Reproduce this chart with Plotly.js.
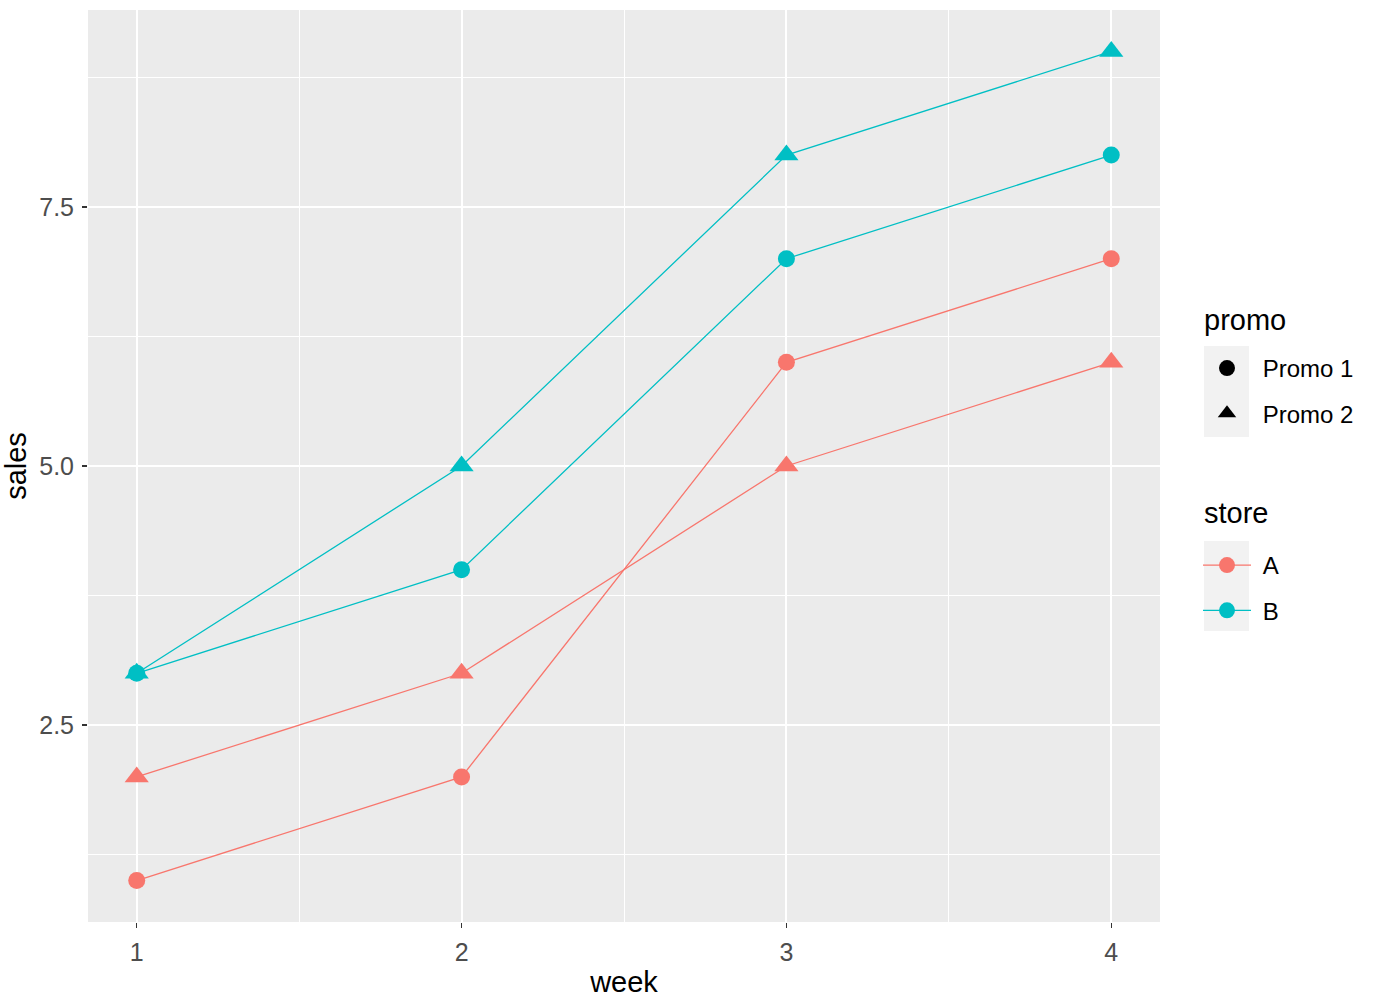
<!DOCTYPE html>
<html>
<head>
<meta charset="utf-8">
<script src="https://cdn.plot.ly/plotly-3.0.1.min.js"></script>
<style>
  html, body { margin: 0; padding: 0; background: #fff; }
  #chart { width: 1376px; height: 1006px; }
</style>
</head>
<body>
<div id="chart"></div>
<script>
const weeks = [1, 2, 3, 4];
const storeA_promo1 = [1, 2, 6, 7];
const storeA_promo2 = [2, 3, 5, 6];
const storeB_promo1 = [3, 4, 7, 8];
const storeB_promo2 = [3, 5, 8, 9];

const colA = '#F8766D';
const colB = '#00BFC4';

const circleSize = 17;
const triSize = 21;

const mkTrace = (y, color, symbol) => ({
  x: weeks,
  y: y,
  type: 'scatter',
  mode: 'lines+markers',
  line: { color: color, width: 1.3 },
  marker: { color: color, symbol: symbol, size: symbol === 'circle' ? circleSize : triSize },
  showlegend: false,
  hoverinfo: 'x+y'
});

// legend-only entries, each in its own group so the gap can be set
const legendEntry = (name, color, symbol, mode, legend) => ({
  x: [null], y: [null], type: 'scatter', mode: mode, name: '\u00a0' + name,
  legend: legend, legendgroup: name,
  line: { color: color, width: 1.3 },
  marker: { color: color, symbol: symbol, size: symbol === 'circle' ? circleSize : triSize }
});

const traces = [
  mkTrace(storeA_promo1, colA, 'circle'),
  mkTrace(storeA_promo2, colA, 'triangle-up'),
  mkTrace(storeB_promo1, colB, 'circle'),
  mkTrace(storeB_promo2, colB, 'triangle-up'),
  legendEntry('Promo 1', '#000', 'circle', 'markers', 'legend'),
  legendEntry('Promo 2', '#000', 'triangle-up', 'markers', 'legend'),
  legendEntry('A', colA, 'circle', 'lines+markers', 'legend2'),
  legendEntry('B', colB, 'circle', 'lines+markers', 'legend2')
];

const axisBase = {
  showline: false,
  zeroline: false,
  gridcolor: '#ffffff',
  gridwidth: 2,
  ticks: 'outside',
  ticklen: 5,
  tickwidth: 1.5,
  tickcolor: '#333333',
  ticklabelstandoff: 3,
  tickfont: { size: 25, color: '#4d4d4d' }
};

// px -> paper coords for legend boxes/titles
const px = v => (v - 88) / 1072;
const py = v => (922 - v) / 912;

const keyBox = (x0, y0, x1, y1) => ({
  type: 'rect', xref: 'paper', yref: 'paper',
  x0: px(x0), x1: px(x1), y0: py(y1), y1: py(y0),
  fillcolor: '#F2F2F2', line: { width: 0 }, layer: 'below'
});

const legendTitle = (text, x, y) => ({
  text: text, xref: 'paper', yref: 'paper', x: px(x), y: py(y),
  xanchor: 'left', yanchor: 'middle', showarrow: false,
  font: { size: 29, color: '#000' }
});

const layout = {
  width: 1376,
  height: 1006,
  paper_bgcolor: '#ffffff',
  plot_bgcolor: '#EBEBEB',
  font: { family: 'Liberation Sans, Arial, sans-serif', color: '#000' },
  margin: { l: 88, r: 216, t: 10, b: 84 },
  xaxis: Object.assign({}, axisBase, {
    range: [0.85, 4.15],
    tickvals: [1, 2, 3, 4],
    ticktext: ['1', '2', '3', '4'],
    minor: { showgrid: true, gridcolor: '#ffffff', gridwidth: 1, tickvals: [1.5, 2.5, 3.5], ticks: '' },
    title: { text: 'week', font: { size: 29 }, standoff: 6 }
  }),
  yaxis: Object.assign({}, axisBase, {
    range: [0.6, 9.4],
    tickvals: [2.5, 5.0, 7.5],
    ticktext: ['2.5', '5.0', '7.5'],
    minor: { showgrid: true, gridcolor: '#ffffff', gridwidth: 1, tickvals: [1.25, 3.75, 6.25, 8.75], ticks: '' },
    title: { text: 'sales', font: { size: 29 }, standoff: 10 }
  }),
  shapes: [
    keyBox(1204, 346, 1249, 437),
    keyBox(1204, 541, 1249, 631)
  ],
  annotations: [
    legendTitle('promo', 1202, 320),
    legendTitle('store', 1202, 513)
  ],
  legend: {
    x: px(1198), xanchor: 'left', y: py(346), yanchor: 'top',
    bgcolor: 'rgba(0,0,0,0)',
    font: { size: 24 },
    itemwidth: 48,
    tracegroupgap: 11
  },
  legend2: {
    x: px(1198), xanchor: 'left', y: py(543), yanchor: 'top',
    bgcolor: 'rgba(0,0,0,0)',
    font: { size: 24 },
    itemwidth: 48,
    tracegroupgap: 11
  }
};

Plotly.newPlot('chart', traces, layout, { staticPlot: true });
</script>
</body>
</html>
